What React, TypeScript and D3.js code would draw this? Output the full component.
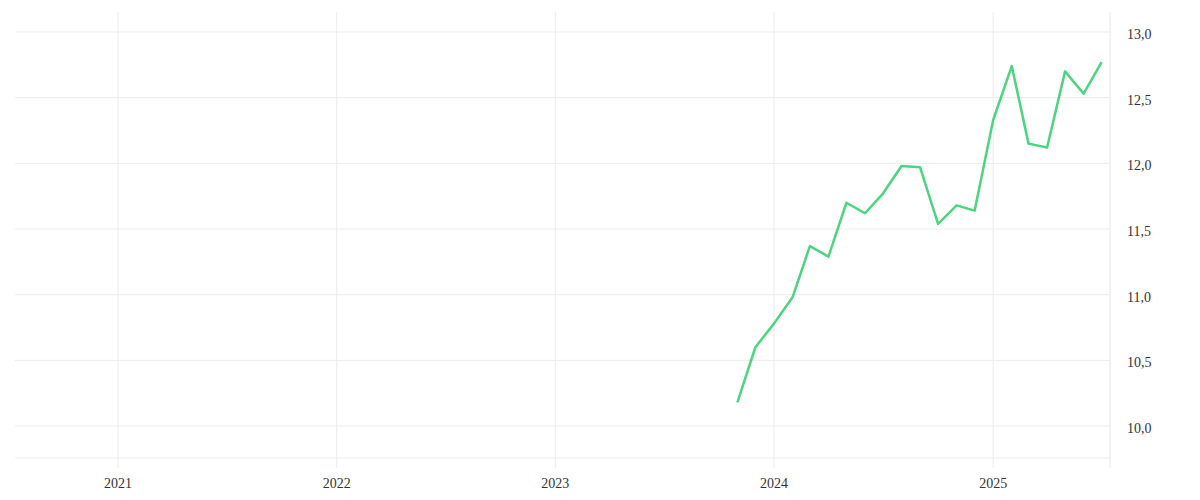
import React from "react"
import * as d3 from "d3"

// monthly values, Nov 2023 .. Jul 2025
const months = [
  "2023-11", "2023-12",
  "2024-01", "2024-02", "2024-03", "2024-04", "2024-05", "2024-06",
  "2024-07", "2024-08", "2024-09", "2024-10", "2024-11", "2024-12",
  "2025-01", "2025-02", "2025-03", "2025-04", "2025-05", "2025-06", "2025-07",
]
const values = [
  10.18, 10.6,
  10.78, 10.98, 11.37, 11.29, 11.7, 11.62,
  11.77, 11.98, 11.97, 11.54, 11.68, 11.64,
  12.33, 12.74, 12.15, 12.12, 12.7, 12.53, 12.77,
]
const yTicks = [10, 10.5, 11, 11.5, 12, 12.5, 13]
const yearTicks = ["2021", "2022", "2023", "2024", "2025"]

const W = 1200
const H = 500
const left = 15
const right = 1110
const top = 12
const bottom = 458
const gridBottom = 468

export default function App() {
  const parse = d3.timeParse("%Y-%m")
  const data = months.map((m, i) => ({ date: parse(m) as Date, value: values[i] }))

  const x = d3.scaleTime()
    .domain([new Date(2020, 6, 13), new Date(2025, 6, 15)])
    .range([left, right])

  const y = d3.scaleLinear()
    .domain([9.757, 13.152])
    .range([bottom, top])

  const line = d3.line<{ date: Date; value: number }>()
    .x(d => x(d.date))
    .y(d => y(d.value))

  const fmt = (v: number) => v.toFixed(1).replace(".", ",")

  return (
    <svg
      width={W}
      height={H}
      style={{ position: "absolute", left: 0, top: 0, display: "block", fontFamily: "Liberation Serif, serif" }}
    >
      {yTicks.map(t => (
        <line key={t} x1={left} x2={right} y1={y(t)} y2={y(t)} stroke="#ececec" strokeWidth={1} />
      ))}
      <line x1={left} x2={right} y1={bottom} y2={bottom} stroke="#ececec" strokeWidth={1} />
      {yearTicks.map(yr => {
        const xx = x(new Date(+yr, 0, 1))
        return (
          <g key={yr}>
            <line x1={xx} x2={xx} y1={top} y2={gridBottom} stroke="#ececec" strokeWidth={1} />
            <text x={xx} y={488} textAnchor="middle" fontSize={14} fill="#333">{yr}</text>
          </g>
        )
      })}
      <line x1={right} x2={right} y1={top} y2={gridBottom} stroke="#e6e6e6" strokeWidth={1} />
      {yTicks.map(t => (
        <text key={t} x={1127} y={y(t) + 7} fontSize={14} fill="#333">{fmt(t)}</text>
      ))}
      <path d={line(data) || ""} fill="none" stroke="#4cd47e" strokeWidth={2.5} strokeLinejoin="round" />
    </svg>
  )
}
